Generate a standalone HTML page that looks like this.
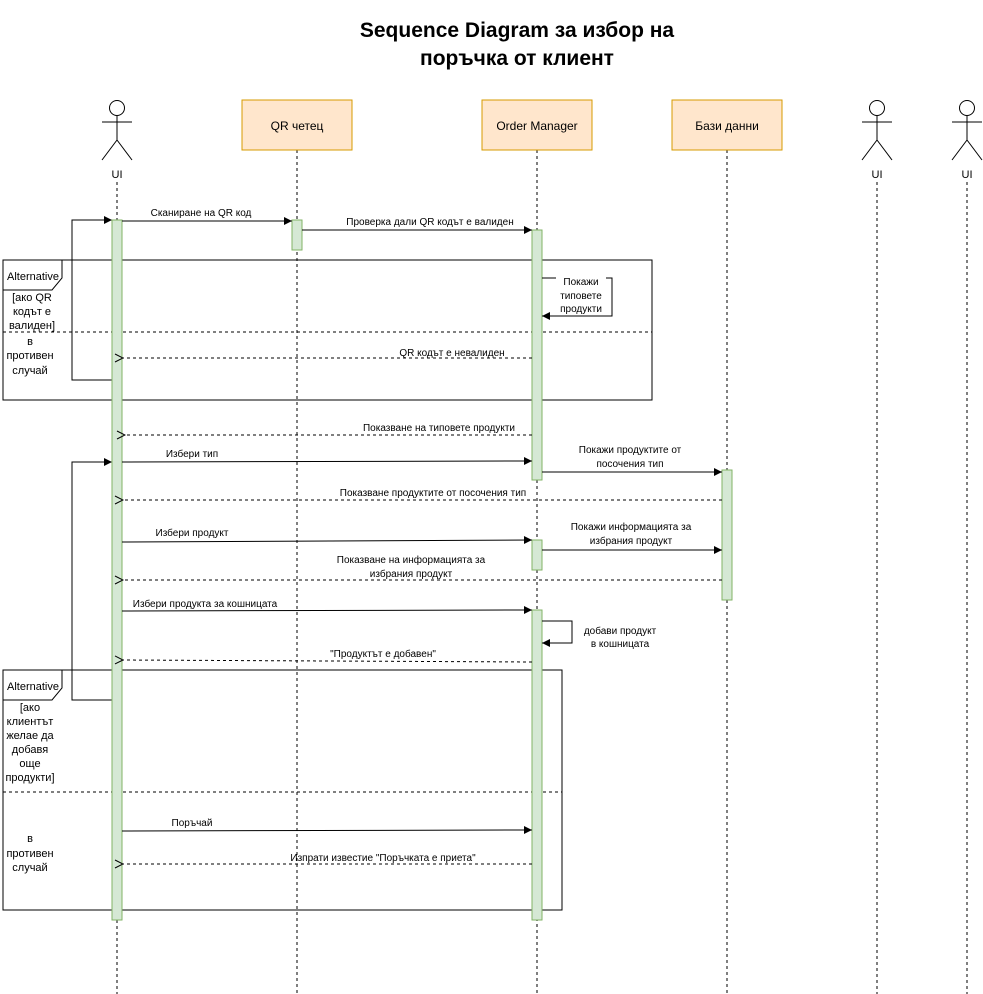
<!DOCTYPE html>
<html><head><meta charset="utf-8"><style>html,body{margin:0;padding:0;background:#fff}svg{display:block}</style></head>
<body>
<svg width="983" height="994" viewBox="0 0 983 994" xmlns="http://www.w3.org/2000/svg" font-family="Liberation Sans, DejaVu Sans, sans-serif" font-size="11">
<defs>
<marker id="f" markerWidth="10" markerHeight="10" refX="9" refY="5" orient="auto" markerUnits="userSpaceOnUse"><path d="M1,1 L9,5 L1,9 Z" fill="#000"/></marker>
<marker id="o" markerWidth="10" markerHeight="10" refX="1" refY="5" orient="auto" markerUnits="userSpaceOnUse"><path d="M9,1 L1,5 L9,9" fill="none" stroke="#000"/></marker>
</defs>
<text x="517" y="37" font-size="21" font-weight="bold" text-anchor="middle">Sequence Diagram за избор на</text>
<text x="517" y="65" font-size="21" font-weight="bold" text-anchor="middle">поръчка от клиент</text>

<g stroke="#000" stroke-dasharray="3,3" fill="none">
<line x1="117" y1="182" x2="117" y2="994"/>
<line x1="297" y1="150" x2="297" y2="994"/>
<line x1="537" y1="150" x2="537" y2="994"/>
<line x1="727" y1="150" x2="727" y2="994"/>
<line x1="877" y1="182" x2="877" y2="994"/>
<line x1="967" y1="182" x2="967" y2="994"/>
</g>
<g fill="#ffe6cc" stroke="#d79b00">
<rect x="242" y="100" width="110" height="50"/>
<rect x="482" y="100" width="110" height="50"/>
<rect x="672" y="100" width="110" height="50"/>
</g>
<g font-size="12" text-anchor="middle">
<text x="297" y="130">QR четец</text><text x="537" y="130">Order Manager</text><text x="727" y="130">Бази данни</text>
</g>
<g stroke="#000" fill="#fff" stroke-width="1">
<g transform="translate(117,0)"><circle cx="0" cy="108" r="7.5"/><line x1="0" y1="116" x2="0" y2="140"/><line x1="-15" y1="122" x2="15" y2="122"/><line x1="0" y1="140" x2="-15" y2="160"/><line x1="0" y1="140" x2="15" y2="160"/></g>
<g transform="translate(877,0)"><circle cx="0" cy="108" r="7.5"/><line x1="0" y1="116" x2="0" y2="140"/><line x1="-15" y1="122" x2="15" y2="122"/><line x1="0" y1="140" x2="-15" y2="160"/><line x1="0" y1="140" x2="15" y2="160"/></g>
<g transform="translate(967,0)"><circle cx="0" cy="108" r="7.5"/><line x1="0" y1="116" x2="0" y2="140"/><line x1="-15" y1="122" x2="15" y2="122"/><line x1="0" y1="140" x2="-15" y2="160"/><line x1="0" y1="140" x2="15" y2="160"/></g>
</g>
<g text-anchor="middle"><text x="117" y="178">UI</text><text x="877" y="178">UI</text><text x="967" y="178">UI</text></g>

<!-- frames -->
<g fill="none" stroke="#000">
<rect x="3" y="260" width="649" height="140"/>
<path d="M3,290 H52 L62,278 V260"/>
<line x1="3" y1="332" x2="652" y2="332" stroke-dasharray="3,3"/>
<rect x="3" y="670" width="559" height="240"/>
<path d="M3,700 H52 L62,688 V670"/>
<line x1="3" y1="792" x2="562" y2="792" stroke-dasharray="3,3"/>
</g>
<text x="7" y="280">Alternative</text>
<text x="7" y="690">Alternative</text>
<g text-anchor="middle">
<text x="32" y="301">[ако QR</text><text x="32" y="315">кодът е</text><text x="32" y="329">валиден]</text>
<text x="30" y="345">в</text><text x="30" y="359">противен</text><text x="30" y="374">случай</text>
<text x="30" y="711">[ако</text><text x="30" y="725">клиентът</text><text x="30" y="739">желае да</text><text x="30" y="753">добавя</text><text x="30" y="767">още</text><text x="30" y="781">продукти]</text>
<text x="30" y="842">в</text><text x="30" y="857">противен</text><text x="30" y="871">случай</text>
</g>

<!-- loop lines -->
<g fill="none" stroke="#000">
<path d="M112,380 H72 V220 H112" marker-end="url(#f)"/>
<path d="M112,700 H72 V462 H112" marker-end="url(#f)"/>
</g>

<!-- activations -->
<g fill="#d5e8d4" stroke="#82b366">
<rect x="112" y="220" width="10" height="700"/>
<rect x="292" y="220" width="10" height="30"/>
<rect x="532" y="230" width="10" height="250"/>
<rect x="532" y="540" width="10" height="30"/>
<rect x="532" y="610" width="10" height="310"/>
<rect x="722" y="470" width="10" height="130"/>
</g>

<!-- messages -->
<g fill="none" stroke="#000">
<line x1="122" y1="221" x2="292" y2="221" marker-end="url(#f)"/>
<line x1="302" y1="230" x2="532" y2="230" marker-end="url(#f)"/>
<path d="M542,278 H612 V316 H542" marker-end="url(#f)"/>
<line x1="532" y1="358" x2="123" y2="358" stroke-dasharray="3,3" marker-end="url(#o)"/>
<line x1="532" y1="435" x2="125" y2="435" stroke-dasharray="3,3" marker-end="url(#o)"/>
<line x1="122" y1="462" x2="532" y2="461" marker-end="url(#f)"/>
<line x1="542" y1="472" x2="722" y2="472" marker-end="url(#f)"/>
<line x1="722" y1="500" x2="123" y2="500" stroke-dasharray="3,3" marker-end="url(#o)"/>
<line x1="122" y1="542" x2="532" y2="540" marker-end="url(#f)"/>
<line x1="542" y1="550" x2="722" y2="550" marker-end="url(#f)"/>
<line x1="722" y1="580" x2="123" y2="580" stroke-dasharray="3,3" marker-end="url(#o)"/>
<line x1="122" y1="611" x2="532" y2="610" marker-end="url(#f)"/>
<path d="M542,621 H572 V643 H542" marker-end="url(#f)"/>
<line x1="532" y1="662" x2="123" y2="660" stroke-dasharray="3,3" marker-end="url(#o)"/>
<line x1="122" y1="831" x2="532" y2="830" marker-end="url(#f)"/>
<line x1="532" y1="864" x2="123" y2="864" stroke-dasharray="3,3" marker-end="url(#o)"/>
</g>
<rect x="556" y="273" width="50" height="42" fill="#fff"/>
<g font-size="10" text-anchor="middle">
<text x="201" y="216">Сканиране на QR код</text>
<text x="430" y="225">Проверка дали QR кодът е валиден</text>
<text x="581" y="285">Покажи</text><text x="581" y="299">типовете</text><text x="581" y="312">продукти</text>
<text x="452" y="356">QR кодът е невалиден</text>
<text x="439" y="431">Показване на типовете продукти</text>
<text x="192" y="457">Избери тип</text>
<text x="630" y="453">Покажи продуктите от</text><text x="630" y="467">посочения тип</text>
<text x="433" y="496">Показване продуктите от посочения тип</text>
<text x="192" y="536">Избери продукт</text>
<text x="631" y="530">Покажи информацията за</text><text x="631" y="544">избрания продукт</text>
<text x="411" y="563">Показване на информацията за</text><text x="411" y="577">избрания продукт</text>
<text x="205" y="607">Избери продукта за кошницата</text>
<text x="620" y="634">добави продукт</text><text x="620" y="647">в кошницата</text>
<text x="383" y="657">"Продуктът е добавен"</text>
<text x="192" y="826">Поръчай</text>
<text x="383" y="861">Изпрати известие "Поръчката е приета"</text>
</g>
</svg>
</body></html>
